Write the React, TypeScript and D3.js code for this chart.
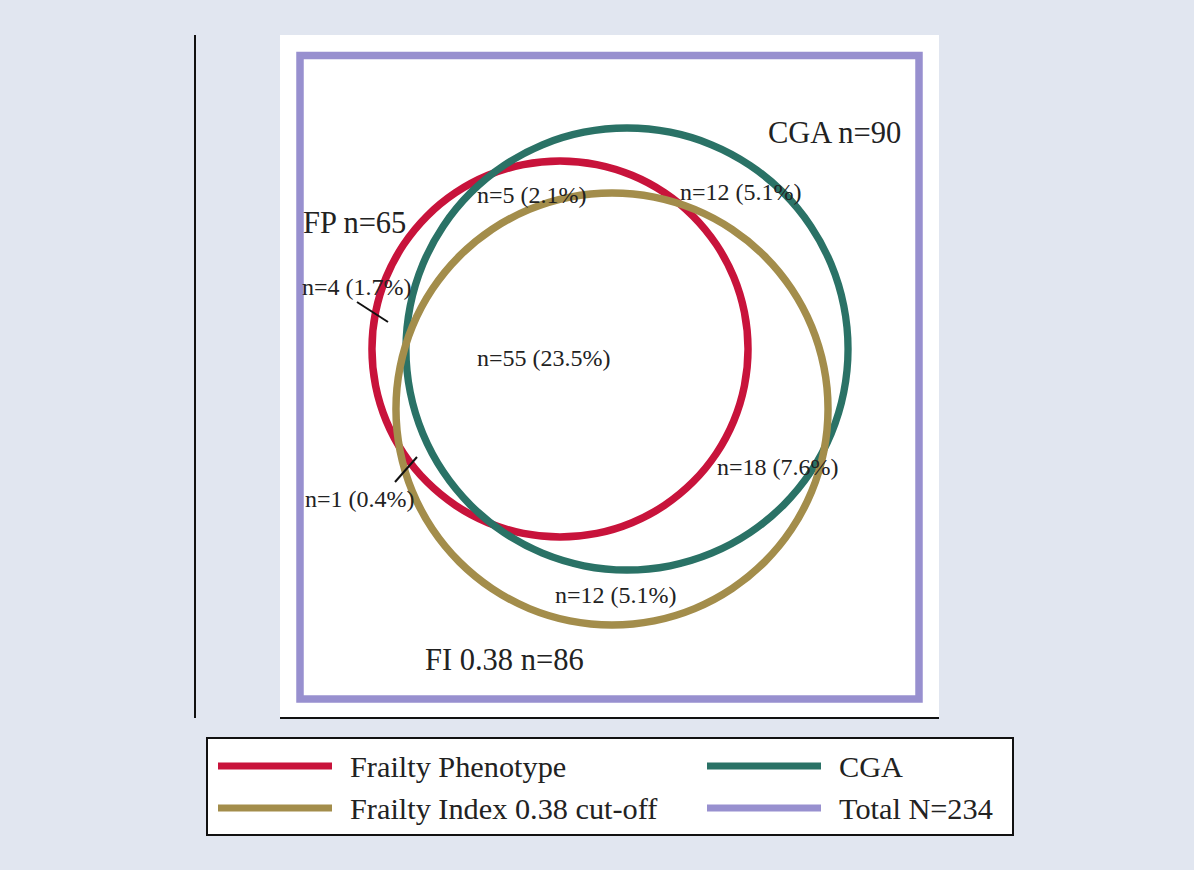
import React from "react";
import * as d3 from "d3";

// ---- data ----
const setNames = ["Frailty Phenotype", "CGA", "Frailty Index 0.38 cut-off"];
const setShort = ["FP", "CGA", "FI 0.38"];
const setCounts = [65, 90, 86];
const totalN = 234;
const regionCounts = [5, 12, 4, 55, 1, 18, 12];
const regionPercents = ["2.1", "5.1", "1.7", "23.5", "0.4", "7.6", "5.1"];

// ---- layout / style ----
const W = 1194;
const H = 870;
const setColors = ["#c8133b", "#2a7266", "#a38d4b"];
const totalColor = "#9890cf";
const bg = "#e1e6f0";
const FONT = "'Liberation Serif', 'Times New Roman', serif";

// geometry in plot units (0..619 x 0..643.5 inside the "Total" frame)
const circleGeom = [
  { cx: 260, cy: 293.5, r: 188 },
  { cx: 327, cy: 293.5, r: 221 },
  { cx: 312, cy: 353.5, r: 216 },
];
const setLabelPos = [
  [3, 177.5],
  [468, 87.5],
  [125, 614.5],
];
const regionLabelPos = [
  [177, 147.5],
  [380, 144.5],
  [2, 239.5],
  [177, 310.5],
  [5, 451.5],
  [417, 419.5],
  [255, 547.5],
];
const leaderLines = [
  { region: 2, x1: 57, y1: 246.5, x2: 88, y2: 266.5 },
  { region: 4, x1: 95, y1: 426.5, x2: 117, y2: 401.5 },
];

export default function App() {
  const x = d3.scaleLinear().domain([0, 619]).range([300, 919]);
  const y = d3.scaleLinear().domain([0, 643.5]).range([55.5, 699]);
  const rs = d3.scaleLinear().domain([0, 619]).range([0, 619]);
  const arc = d3.arc();

  const legendItems = [
    { label: setNames[0], color: setColors[0], col: 0, row: 0 },
    { label: setNames[1], color: setColors[1], col: 1, row: 0 },
    { label: setNames[2], color: setColors[2], col: 0, row: 1 },
    { label: `Total N=${totalN}`, color: totalColor, col: 1, row: 1 },
  ];
  const legX = [218, 707];
  const legY = [766, 808];

  return (
    <svg
      width={W}
      height={H}
      style={{ position: "absolute", left: 0, top: 0, fontFamily: FONT }}
    >
      <rect x={0} y={0} width={W} height={H} fill={bg} />
      {/* white panel */}
      <rect x={280} y={35} width={659} height={683} fill="#ffffff" />
      <line x1={195} y1={35} x2={195} y2={718} stroke="#111" strokeWidth={2} />
      <line x1={280} y1={718} x2={939} y2={718} stroke="#111" strokeWidth={2} />
      {/* total frame */}
      <rect
        x={x(0)}
        y={y(0)}
        width={x(619) - x(0)}
        height={y(643.5) - y(0)}
        fill="none"
        stroke={totalColor}
        strokeWidth={7.5}
      />
      {/* circles */}
      {circleGeom.map((c, i) => (
        <path
          key={i}
          transform={`translate(${x(c.cx)},${y(c.cy)})`}
          d={arc({ innerRadius: rs(c.r) - 3.7, outerRadius: rs(c.r) + 3.7, startAngle: 0, endAngle: 2 * Math.PI } as any) || ""}
          fill={setColors[i]}
        />
      ))}
      {/* leader lines */}
      {leaderLines.map((l, i) => (
        <line
          key={i}
          x1={x(l.x1)}
          y1={y(l.y1)}
          x2={x(l.x2)}
          y2={y(l.y2)}
          stroke="#111"
          strokeWidth={2}
        />
      ))}
      {/* set labels */}
      {setShort.map((s, i) => (
        <text
          key={i}
          x={x(setLabelPos[i][0])}
          y={y(setLabelPos[i][1])}
          fontSize={30.5}
          fill="#222"
        >
          {`${s} n=${setCounts[i]}`}
        </text>
      ))}
      {/* region labels */}
      {regionCounts.map((n, i) => (
        <text
          key={i}
          x={x(regionLabelPos[i][0])}
          y={y(regionLabelPos[i][1])}
          fontSize={24}
          fill="#222"
        >
          {`n=${n} (${regionPercents[i]}%)`}
        </text>
      ))}
      {/* legend */}
      <rect x={207} y={738} width={806} height={97} fill="#ffffff" stroke="#111" strokeWidth={2} />
      {legendItems.map((it, i) => (
        <g key={i}>
          <line
            x1={legX[it.col]}
            x2={legX[it.col] + 114}
            y1={legY[it.row]}
            y2={legY[it.row]}
            stroke={it.color}
            strokeWidth={7}
          />
          <text x={legX[it.col] + 132} y={legY[it.row] + 11} fontSize={30.3} fill="#222">
            {it.label}
          </text>
        </g>
      ))}
    </svg>
  );
}
